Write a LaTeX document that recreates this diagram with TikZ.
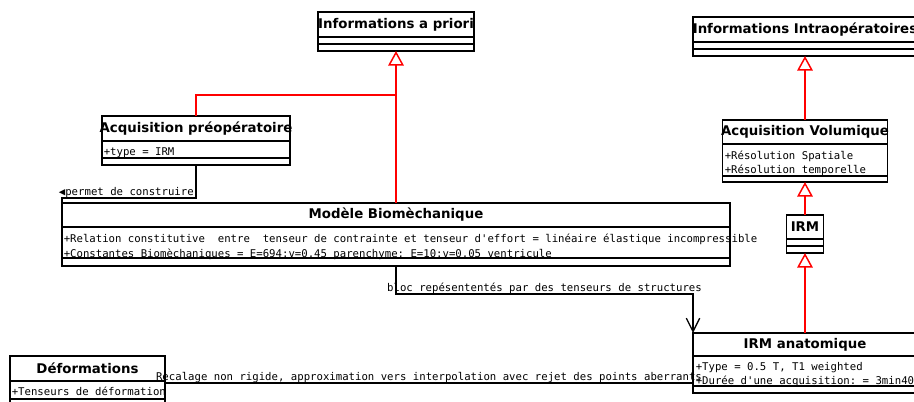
\documentclass[tikz,border=0pt]{standalone}
\usepackage{fontspec}
\setmainfont{DejaVu Sans}
\setmonofont{DejaVu Sans Mono}
\usepackage{tikz}
\usetikzlibrary{arrows.meta,positioning}

\begin{document}
\begin{tikzpicture}[x=0.75pt, y=-0.75pt,
    classhead/.style={draw=black, line width=1.2pt, inner ysep=0pt, inner xsep=-3pt, outer sep=0pt, minimum height=18pt, font=\fontsize{10}{12}\selectfont\bfseries},
    classpart/.style={draw=black, line width=1.2pt, inner sep=0pt, outer sep=0pt},
    attr/.style={anchor=base west, inner sep=0pt, font=\ttfamily\fontsize{8}{10}\selectfont},
    linklabel/.style={anchor=base, inner sep=0pt, yshift=2pt, font=\ttfamily\fontsize{8}{10}\selectfont},
    inherit/.style={draw=red, line width=1.1pt, -{Triangle[open, length=10.9pt, width=11.6pt]}},
    assoc/.style={draw=black, line width=1pt}]
    \useasboundingbox (0,0) rectangle (914,402);
    \clip (0,0) rectangle (914,402);

    % Informations a priori
    \node[classhead, minimum width=117pt, minimum height=18.75pt] (prior) at (396,24.5) {Informations a priori};
    \node[classpart, minimum width=117pt, minimum height=5.25pt, below=0pt of prior] (prior-attr) {};
    \node[classpart, minimum width=117pt, minimum height=5.25pt, below=0pt of prior-attr] (prior-ops) {};

    % Informations Intraoperatoires
    \node[classhead, minimum width=168pt, minimum height=18.75pt] (intra) at (805,29.5) {Informations Intraopératoires};
    \node[classpart, minimum width=168pt, minimum height=5.25pt, below=0pt of intra] (intra-attr) {};
    \node[classpart, minimum width=168pt, minimum height=5.25pt, below=0pt of intra-attr] (intra-ops) {};

    % Acquisition preoperatoire
    \node[classhead, minimum width=141pt, minimum height=18.75pt] (pre) at (196,128.5) {Acquisition préopératoire};
    \node[classpart, minimum width=141pt, minimum height=12.75pt, below=0pt of pre] (pre-attr) {};
    \node[classpart, minimum width=141pt, minimum height=5.25pt, below=0pt of pre-attr] (pre-ops) {};
    \node[attr] (pre-a1) at (103.5,155.5) {+type = IRM};

    % Acquisition Volumique
    \node[classhead, minimum width=123.75pt] (vol) at (805,132) {Acquisition Volumique};
    \node[classpart, minimum width=123.75pt, minimum height=24pt, below=0pt of vol] (vol-attr) {};
    \node[classpart, minimum width=123.75pt, minimum height=4.5pt, below=0pt of vol-attr] (vol-ops) {};
    \node[attr] (vol-a1) at (724.5,160) {+Résolution Spatiale};
    \node[attr] (vol-a2) at (724.5,174) {+Résolution temporelle};

    % IRM
    \node[classhead, minimum width=27.75pt] (irm) at (805,227) {IRM};
    \node[classpart, minimum width=27.75pt, minimum height=5.25pt, below=0pt of irm] (irm-attr) {};
    \node[classpart, minimum width=27.75pt, minimum height=5.25pt, below=0pt of irm-attr] (irm-ops) {};

    % Modele Biomechanique
    \node[classhead, minimum width=501pt] (model) at (396,215) {Modèle Biomèchanique};
    \node[classpart, minimum width=501pt, minimum height=23.25pt, below=0pt of model] (model-attr) {};
    \node[classpart, minimum width=501pt, minimum height=6pt, below=0pt of model-attr] (model-ops) {};
    \node[attr] (model-a1) at (63.5,243) {+Relation constitutive\ \ entre\ \ tenseur de contrainte et tenseur d'effort = linéaire élastique incompressible};
    \node[attr] (model-a2) at (63.5,257.5) {+Constantes Biomèchaniques = E=694;v=0,45 parenchyme; E=10;v=0,05 ventricule};

    % IRM anatomique
    \node[classhead, minimum width=168pt, minimum height=17.25pt] (anat) at (805,344.5) {IRM anatomique};
    \node[classpart, minimum width=168pt, minimum height=22.5pt, below=0pt of anat] (anat-attr) {};
    \node[classpart, minimum width=168pt, minimum height=5.25pt, below=0pt of anat-attr] (anat-ops) {};
    \node[attr] (anat-a1) at (695.5,371) {+Type = 0.5 T, T1 weighted};
    \node[attr] (anat-a2) at (695.5,385) {+Durée d'une acquisition: = 3min40s};

    % Deformations
    \node[classhead, minimum width=116.25pt, minimum height=18.75pt] (deform) at (87.5,368.5) {Déformations};
    \node[classpart, minimum width=116.25pt, minimum height=13.5pt, below=0pt of deform] (deform-attr) {};
    \node[classpart, minimum width=116.25pt, minimum height=5.25pt, below=0pt of deform-attr] (deform-ops) {};
    \node[attr] (deform-a1) at (11.5,396) {+Tenseurs de déformation};

    % Connectors
    \coordinate (join) at (396,95);
    \draw[inherit] (model.north) -- (prior-ops.south);
    \draw[inherit, -] (pre.north) |- (join);
    \draw[inherit] (vol.north) -- (intra-ops.south);
    \draw[inherit] (irm.north) -- (vol-ops.south);
    \draw[inherit] (anat.north) -- (irm-ops.south);
    \draw[assoc] (pre-ops.south) -- ++(0,33) -| node[pos=0.25, linklabel, xshift=-2pt] {◀permet de construire} (model.north west);
    \draw[assoc, -{Straight Barb[length=10pt, width=10pt]}] (model-ops.south) -- ++(0,28) -| node[pos=0.25, linklabel] {bloc repésententés par des tenseurs de structures} (anat.north west);
    \draw[assoc] (deform-attr.north east) ++(0,2) coordinate (recal) -- (recal -| anat-attr.west) node[midway, linklabel] {Recalage non rigide, approximation vers interpolation avec rejet des points aberrants};
\end{tikzpicture}
\end{document}
